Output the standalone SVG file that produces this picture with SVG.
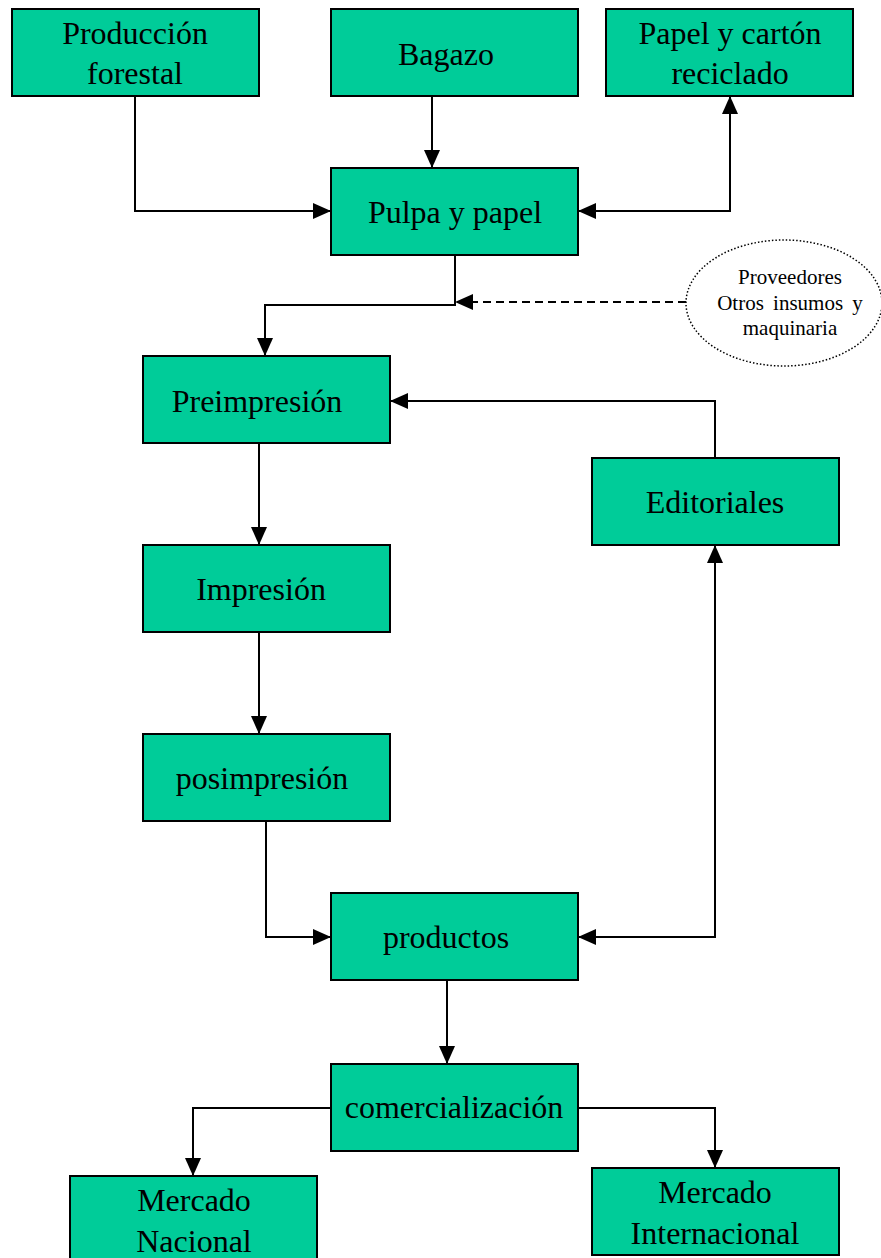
<svg xmlns="http://www.w3.org/2000/svg" width="881" height="1258" viewBox="0 0 881 1258">
<style>
.box{fill:#00CC99;stroke:#000;stroke-width:2}
.t{font-family:"Liberation Serif","Times New Roman",serif;font-size:32px;fill:#000;text-anchor:middle}
.s{font-family:"Liberation Serif","Times New Roman",serif;font-size:21px;fill:#000;text-anchor:middle}
.c{fill:none;stroke:#000;stroke-width:2}
.d{fill:none;stroke:#000;stroke-width:2;stroke-dasharray:8,5}
</style>
<defs>
<marker id="ah" viewBox="0 0 18 16" refX="18" refY="8" markerWidth="18" markerHeight="16" markerUnits="userSpaceOnUse" orient="auto-start-reverse">
<path d="M0,0 L18,8 L0,16 Z" fill="#000"/>
</marker>
</defs>
<rect width="881" height="1258" fill="#fff"/>
<g id="connectors">
<path class="c" d="M135,96 V211 H331" marker-end="url(#ah)"/>
<path class="c" d="M432,96 V168" marker-end="url(#ah)"/>
<path class="c" d="M730,96 V211 H578" marker-start="url(#ah)" marker-end="url(#ah)"/>
<path class="c" d="M455,255 V305 H265 V356" marker-end="url(#ah)"/>
<path class="d" d="M686,302 H455" marker-end="url(#ah)"/>
<path class="c" d="M259,443 V545" marker-end="url(#ah)"/>
<path class="c" d="M715,458 V401 H390" marker-end="url(#ah)"/>
<path class="c" d="M259,632 V734" marker-end="url(#ah)"/>
<path class="c" d="M266,821 V937 H331" marker-end="url(#ah)"/>
<path class="c" d="M578,937 H715 V545" marker-start="url(#ah)" marker-end="url(#ah)"/>
<path class="c" d="M447,980 V1064" marker-end="url(#ah)"/>
<path class="c" d="M331,1108 H193 V1176" marker-end="url(#ah)"/>
<path class="c" d="M578,1108 H715 V1168" marker-end="url(#ah)"/>
</g>
<g id="produccion-forestal"><rect class="box" x="12" y="9" width="247" height="87"/><text class="t" x="135" y="44">Producción</text><text class="t" x="135" y="84">forestal</text></g>
<g id="bagazo"><rect class="box" x="331" y="9" width="247" height="87"/><text class="t" x="446" y="65">Bagazo</text></g>
<g id="papel-reciclado"><rect class="box" x="606" y="9" width="247" height="87"/><text class="t" x="730" y="44">Papel y cartón</text><text class="t" x="730" y="84">reciclado</text></g>
<g id="pulpa-papel"><rect class="box" x="331" y="168" width="247" height="87"/><text class="t" x="455" y="223">Pulpa y papel</text></g>
<g id="proveedores"><ellipse cx="784" cy="303" rx="98" ry="63" fill="#fff" stroke="#000" stroke-width="1.5" stroke-dasharray="1.5,2"/><text class="s" x="790" y="284">Proveedores</text><text class="s" x="790" y="310" word-spacing="4">Otros insumos y</text><text class="s" x="790" y="335">maquinaria</text></g>
<g id="preimpresion"><rect class="box" x="143" y="356" width="247" height="87"/><text class="t" x="257" y="412">Preimpresión</text></g>
<g id="editoriales"><rect class="box" x="592" y="458" width="247" height="87"/><text class="t" x="715" y="513">Editoriales</text></g>
<g id="impresion"><rect class="box" x="143" y="545" width="247" height="87"/><text class="t" x="261" y="600">Impresión</text></g>
<g id="posimpresion"><rect class="box" x="143" y="734" width="247" height="87"/><text class="t" x="262" y="789">posimpresión</text></g>
<g id="productos"><rect class="box" x="331" y="893" width="247" height="87"/><text class="t" x="446" y="948">productos</text></g>
<g id="comercializacion"><rect class="box" x="331" y="1064" width="247" height="87"/><text class="t" x="454" y="1118">comercialización</text></g>
<g id="mercado-nacional"><rect class="box" x="70" y="1176" width="247" height="90"/><text class="t" x="194" y="1211">Mercado</text><text class="t" x="194" y="1252">Nacional</text></g>
<g id="mercado-internacional"><rect class="box" x="592" y="1168" width="247" height="87"/><text class="t" x="715" y="1203">Mercado</text><text class="t" x="715" y="1244">Internacional</text></g>
</svg>
